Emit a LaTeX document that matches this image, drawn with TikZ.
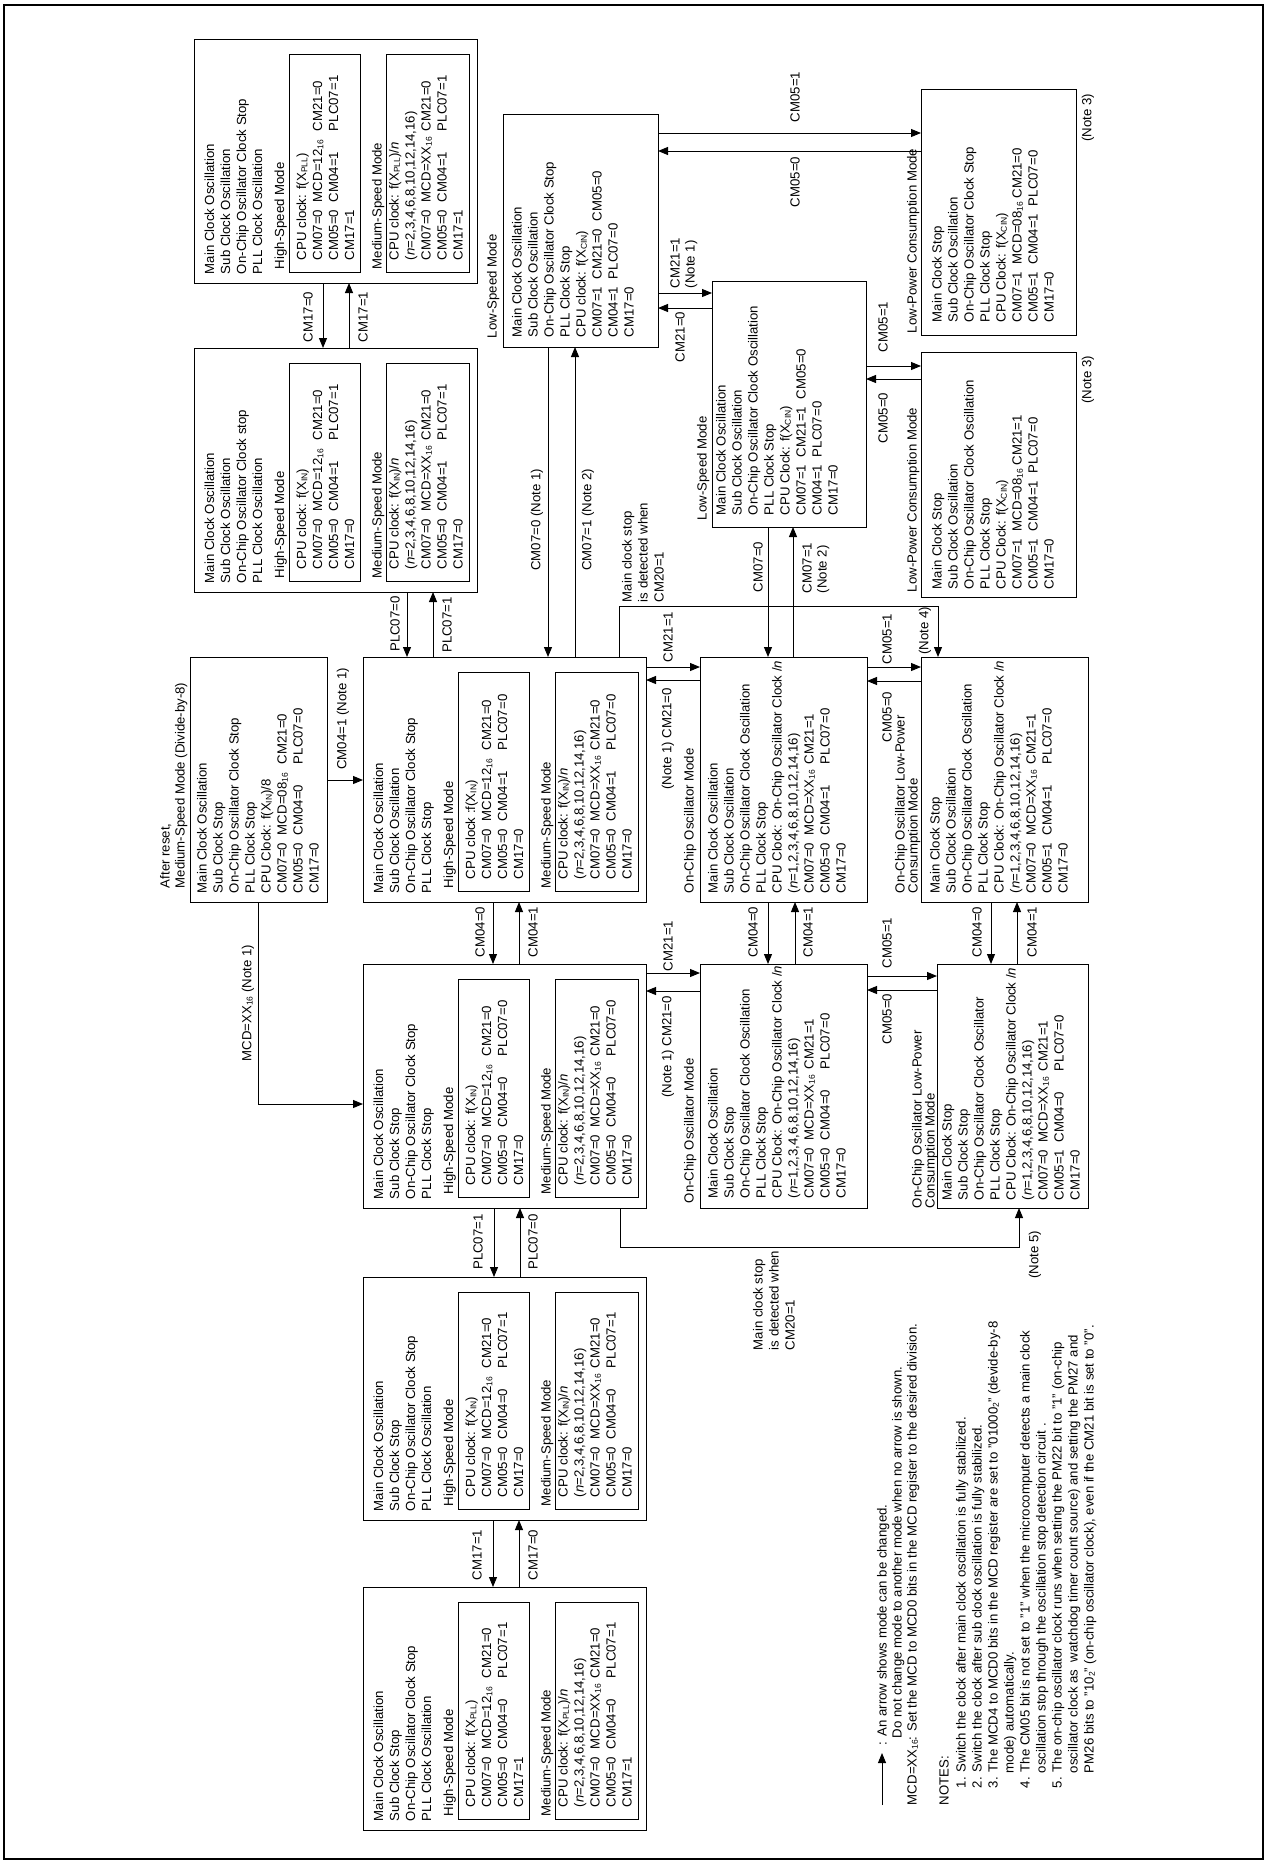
\documentclass[tikz,border=0pt]{standalone}
\usepackage{fontspec}
\setmainfont{Liberation Sans}
\usetikzlibrary{arrows.meta,fit}
\newcommand{\sbs}[1]{\raisebox{-1.3pt}{\fontsize{8.5}{8.5}\selectfont #1}}
\newcommand{\hx}{\sbs{16}}
\newcommand{\XIN}{X\sbs{IN}}
\newcommand{\XPLL}{X\sbs{PLL}}
\newcommand{\XCIN}{X\sbs{CIN}}
\newcommand{\ca}[1]{\makebox[58pt][l]{#1}}
\newcommand{\cb}[1]{\makebox[71pt][l]{#1}}
\newcommand{\nn}{\textit{n}}
\newcommand{\fl}{\rule{0pt}{10pt}}
\newcommand{\fsa}{\fontsize{13.2}{16}\selectfont}
\newcommand{\fsb}{\fontsize{13.2}{15}\selectfont}
\newcommand{\fsc}{\fontsize{13.2}{13}\selectfont}
\newcommand{\pllbox}[7]{%
  \node[bx, fit={(#2,#3) ({#2+283},#4)}] (#1) {};
  \node[tx] (#1s) at ({#2+10},{#4-9}) {\fl #5};
  \node[tx] (#1h) at ({#2+80},{#4-14}) {\fl High-Speed Mode};
  \node[bx, fit={({#2+95},{#3+15}) ({#2+166},{#4-11})}] (#1i) {};
  \node[tx] (#1it) at ({#2+102},{#4-23}) {\fl #6};
  \node[tx] (#1m) at ({#2+177.5},{#4-14}) {\fl Medium-Speed Mode};
  \node[bx, fit={({#2+192.5},{#3+15}) ({#2+275.5},{#4-11})}] (#1j) {};
  \node[tx] (#1jt) at ({#2+194.5},{#4-23}) {\fl #7};
}
\begin{document}
\begin{tikzpicture}[x=1pt,y=-1pt,
  bx/.style={draw, line width=1pt, inner sep=0pt, outer sep=0pt},
  tx/.style={rotate=90, anchor=north west, inner sep=0pt, outer sep=0pt, align=left, font=\fsa},
  lb/.style={rotate=90, anchor=center, inner sep=0pt, outer sep=0pt, align=left, font=\fsa},
  arr/.style={line width=1pt, -{Triangle[length=10pt,width=8pt]}}]
\fill[white] (0,0) rectangle (1265,1863);
\useasboundingbox (0,0) rectangle (1265,1863);
\draw[line width=2.5pt] (4,5) rectangle (1263,1859);

% ---------- PLL / main clock boxes ----------
\pllbox{A}{194}{39}{283}
 {Main Clock Oscillation\\Sub Clock Oscillation\\On-Chip Oscillator Clock Stop\\PLL Clock Oscillation}
 {CPU clock: f(\XPLL)\\\ca{CM07=0}\cb{MCD=12\hx}CM21=0\\\ca{CM05=0}\cb{CM04=1}PLC07=1\\CM17=1}
 {CPU clock: f(\XPLL)/\nn\\(\nn=2,3,4,6,8,10,12,14,16)\\\ca{CM07=0}\cb{MCD=XX\hx}CM21=0\\\ca{CM05=0}\cb{CM04=1}PLC07=1\\CM17=1}
\pllbox{B}{194}{348}{592}
 {Main Clock Oscillation\\Sub Clock Oscillation\\On-Chip Oscillator Clock stop\\PLL Clock Oscillation}
 {CPU clock: f(\XIN)\\\ca{CM07=0}\cb{MCD=12\hx}CM21=0\\\ca{CM05=0}\cb{CM04=1}PLC07=1\\CM17=0}
 {CPU clock: f(\XIN)/\nn\\(\nn=2,3,4,6,8,10,12,14,16)\\\ca{CM07=0}\cb{MCD=XX\hx}CM21=0\\\ca{CM05=0}\cb{CM04=1}PLC07=1\\CM17=0}
\pllbox{C}{363}{657}{902}
 {Main Clock Oscillation\\Sub Clock Oscillation\\On-Chip Oscillator Clock Stop\\PLL Clock Stop}
 {CPU clock :f(\XIN)\\\ca{CM07=0}\cb{MCD=12\hx}CM21=0\\\ca{CM05=0}\cb{CM04=1}PLC07=0\\CM17=0}
 {CPU clock: f(\XIN)/\nn\\(\nn=2,3,4,6,8,10,12,14,16)\\\ca{CM07=0}\cb{MCD=XX\hx}CM21=0\\\ca{CM05=0}\cb{CM04=1}PLC07=0\\CM17=0}
\pllbox{D}{363}{964}{1208}
 {Main Clock Oscillation\\Sub Clock Stop\\On-Chip Oscillator Clock Stop\\PLL Clock Stop}
 {CPU clock: f(\XIN)\\\ca{CM07=0}\cb{MCD=12\hx}CM21=0\\\ca{CM05=0}\cb{CM04=0}PLC07=0\\CM17=0}
 {CPU clock: f(\XIN)/\nn\\(\nn=2,3,4,6,8,10,12,14,16)\\\ca{CM07=0}\cb{MCD=XX\hx}CM21=0\\\ca{CM05=0}\cb{CM04=0}PLC07=0\\CM17=0}
\pllbox{K}{363}{1277}{1520}
 {Main Clock Oscillation\\Sub Clock Stop\\On-Chip Oscillator Clock Stop\\PLL Clock Oscillation}
 {CPU clock: f(\XIN)\\\ca{CM07=0}\cb{MCD=12\hx}CM21=0\\\ca{CM05=0}\cb{CM04=0}PLC07=1\\CM17=0}
 {CPU clock: f(\XIN)/\nn\\(\nn=2,3,4,6,8,10,12,14,16)\\\ca{CM07=0}\cb{MCD=XX\hx}CM21=0\\\ca{CM05=0}\cb{CM04=0}PLC07=1\\CM17=0}
\pllbox{M}{363}{1587}{1830}
 {Main Clock Oscillation\\Sub Clock Stop\\On-Chip Oscillator Clock Stop\\PLL Clock Oscillation}
 {CPU clock: f(\XPLL)\\\ca{CM07=0}\cb{MCD=12\hx}CM21=0\\\ca{CM05=0}\cb{CM04=0}PLC07=1\\CM17=1}
 {CPU clock: f(\XPLL)/\nn\\(\nn=2,3,4,6,8,10,12,14,16)\\\ca{CM07=0}\cb{MCD=XX\hx}CM21=0\\\ca{CM05=0}\cb{CM04=0}PLC07=1\\CM17=1}

% ---------- simple boxes ----------
\node[bx, fit={(190,657) (327,902)}] (R) {};
\node[tx] (Rt) at (196.5,893) {\fl Main Clock Oscillation\\Sub Clock Stop\\On-Chip Oscillator Clock Stop\\PLL Clock Stop\\CPU Clock: f(\XIN)/8\\\ca{CM07=0}\cb{MCD=08\hx}CM21=0\\\ca{CM05=0}\cb{CM04=0}PLC07=0\\CM17=0};
\node[tx, font=\fsb] (Rtt) at (159.5,888) {\fl After reset,\\Medium-Speed Mode (Divide-by-8)};

\node[bx, fit={(503,114) (658,347)}] (E) {};
\node[tx] (Et) at (511.5,337) {\fl Main Clock Oscillation\\Sub Clock Oscillation\\On-Chip Oscillator Clock Stop\\PLL Clock Stop\\CPU clock: f(\XCIN)\\\ca{CM07=1}\ca{CM21=0}CM05=0\\\ca{CM04=1}PLC07=0\\CM17=0};
\node[tx] (Ett) at (486.5,338) {\fl Low-Speed Mode};

\node[bx, fit={(712,281) (866,527)}] (L) {};
\node[tx] (Lt) at (715.5,515) {\fl Main Clock Oscillation\\Sub Clock Oscillation\\On-Chip Oscillator Clock Oscillation\\PLL Clock Stop\\CPU Clock: f(\XCIN)\\\ca{CM07=1}\ca{CM21=1}CM05=0\\\ca{CM04=1}PLC07=0\\CM17=0};
\node[tx] (Ltt) at (696.5,520) {\fl Low-Speed Mode};

\node[bx, fit={(921,89) (1076,335)}] (H1) {};
\node[tx] (H1t) at (931.5,322) {\fl Main Clock Stop\\Sub Clock Oscillation\\On-Chip Oscillator Clock Stop\\PLL Clock Stop\\CPU Clock: f(\XCIN)\\\ca{CM07=1}MCD=08\hx{} CM21=0\\\ca{CM05=1}\ca{CM04=1}PLC07=0\\CM17=0};
\node[tx] (H1tt) at (906.5,333) {\fl Low-Power Consumption Mode};
\node[lb] (N3a) at (1088,118) {(Note 3)};

\node[bx, fit={(921,352) (1076,597)}] (H2) {};
\node[tx] (H2t) at (931.5,589) {\fl Main Clock Stop\\Sub Clock Oscillation\\On-Chip Oscillator Clock Oscillation\\PLL Clock Stop\\CPU Clock: f(\XCIN)\\\ca{CM07=1}MCD=08\hx{} CM21=1\\\ca{CM05=1}\ca{CM04=1}PLC07=0\\CM17=0};
\node[tx] (H2tt) at (906.5,592) {\fl Low-Power Consumption Mode};
\node[lb] (N3b) at (1088,380) {(Note 3)};

\node[bx, fit={(700,657) (867,902)}] (F) {};
\node[tx] (Ft) at (707.5,893) {\fl Main Clock Oscillation\\Sub Clock Oscillation\\On-Chip Oscillator Clock Oscillation\\PLL Clock Stop\\CPU Clock: On-Chip Oscillator Clock /\nn\\(\nn=1,2,3,4,6,8,10,12,14,16)\\\ca{CM07=0}\cb{MCD=XX\hx}CM21=1\\\ca{CM05=0}\cb{CM04=1}PLC07=0\\CM17=0};
\node[tx] (Ftt) at (683.5,893) {\fl On-Chip Oscillator Mode};

\node[bx, fit={(700,964) (867,1208)}] (I) {};
\node[tx] (It) at (707.5,1198) {\fl Main Clock Oscillation\\Sub Clock Stop\\On-Chip Oscillator Clock Oscillation\\PLL Clock Stop\\CPU Clock: On-Chip Oscillator Clock /\nn\\(\nn=1,2,3,4,6,8,10,12,14,16)\\\ca{CM07=0}\cb{MCD=XX\hx}CM21=1\\\ca{CM05=0}\cb{CM04=0}PLC07=0\\CM17=0};
\node[tx] (Itt) at (683.5,1203) {\fl On-Chip Oscillator Mode};

\node[bx, fit={(921,657) (1088,902)}] (G) {};
\node[tx] (Gt) at (929.5,893) {\fl Main Clock Stop\\Sub Clock Oscillation\\On-Chip Oscillator Clock Oscillation\\PLL Clock Stop\\CPU Clock: On-Chip Oscillator Clock /\nn\\(\nn=1,2,3,4,6,8,10,12,14,16)\\\ca{CM07=0}\cb{MCD=XX\hx}CM21=1\\\ca{CM05=1}\cb{CM04=1}PLC07=0\\CM17=0};
\node[tx, font=\fsc] (Gtt) at (894.5,893) {\fl On-Chip Oscillator Low-Power\\Consumption Mode};

\node[bx, fit={(937,964) (1088,1208)}] (J) {};
\node[tx] (Jt) at (941.5,1200) {\fl Main Clock Stop\\Sub Clock Stop\\On-Chip Oscillator Clock Oscillator\\PLL Clock Stop\\CPU Clock: On-Chip Oscillator Clock /\nn\\(\nn=1,2,3,4,6,8,10,12,14,16)\\\ca{CM07=0}\cb{MCD=XX\hx}CM21=1\\\ca{CM05=1}\cb{CM04=0}PLC07=0\\CM17=0};
\node[tx, font=\fsc] (Jtt) at (911.5,1208) {\fl On-Chip Oscillator Low-Power\\Consumption Mode};

% ---------- connectors ----------
\draw[arr] (A.south -| 323,0) -- (B.north -| 323,0);
\draw[arr] (B.north -| 349,0) -- (A.south -| 349,0);
\draw[arr] (B.south -| 407,0) -- (C.north -| 407,0);
\draw[arr] (C.north -| 433,0) -- (B.south -| 433,0);
\draw[arr] (R.east |- 0,780) -- (C.west |- 0,780);
\draw[arr] (R.south -| 258,0) |- (D.west |- 0,1104);
\draw[arr] (E.south -| 548,0) -- (C.north -| 548,0);
\draw[arr] (C.north -| 575,0) -- (E.south -| 575,0);
\draw[arr] (C.north -| 619,0) -- ++(0,-51) -| (G.north -| 938,0);
\draw[arr] (C.east |- 0,667) -- (F.west |- 0,667);
\draw[arr] (F.west |- 0,680) -- (C.east |- 0,680);
\draw[arr] (E.east |- 0,133) -- (H1.west |- 0,133);
\draw[arr] (H1.west |- 0,151) -- (E.east |- 0,151);
\draw[arr] (E.east |- 0,293) -- (L.west |- 0,293);
\draw[arr] (L.west |- 0,308) -- (E.east |- 0,308);
\draw[arr] (L.south -| 768,0) -- (F.north -| 768,0);
\draw[arr] (F.north -| 793,0) -- (L.south -| 793,0);
\draw[arr] (L.east |- 0,366) -- (H2.west |- 0,366);
\draw[arr] (H2.west |- 0,379) -- (L.east |- 0,379);
\draw[arr] (F.east |- 0,667) -- (G.west |- 0,667);
\draw[arr] (G.west |- 0,681) -- (F.east |- 0,681);
\draw[arr] (C.south -| 493,0) -- (D.north -| 493,0);
\draw[arr] (D.north -| 519,0) -- (C.south -| 519,0);
\draw[arr] (F.south -| 768,0) -- (I.north -| 768,0);
\draw[arr] (I.north -| 795,0) -- (F.south -| 795,0);
\draw[arr] (G.south -| 991,0) -- (J.north -| 991,0);
\draw[arr] (J.north -| 1017,0) -- (G.south -| 1017,0);
\draw[arr] (D.east |- 0,973) -- (I.west |- 0,973);
\draw[arr] (I.west |- 0,991) -- (D.east |- 0,991);
\draw[arr] (I.east |- 0,976) -- (J.west |- 0,976);
\draw[arr] (J.west |- 0,990) -- (I.east |- 0,990);
\draw[arr] (D.south -| 620,0) -- ++(0,39) -| (J.south -| 1019,0);
\draw[arr] (D.south -| 494,0) -- (K.north -| 494,0);
\draw[arr] (K.north -| 520,0) -- (D.south -| 520,0);
\draw[arr] (K.south -| 493,0) -- (M.north -| 493,0);
\draw[arr] (M.north -| 519,0) -- (K.south -| 519,0);

% ---------- labels ----------
\node[lb] (l1) at (308,317) {CM17=0};
\node[lb] (l2) at (363,317) {CM17=1};
\node[lb] (l3) at (395,624) {PLC07=0};
\node[lb] (l4) at (447,625) {PLC07=1};
\node[lb] (l5) at (343,719) {CM04=1 (Note 1)};
\node[lb] (l6) at (248,1003) {MCD=XX\hx{} (Note 1)};
\node[lb] (l7) at (537,520) {CM07=0 (Note 1)};
\node[lb] (l8) at (588,520) {CM07=1 (Note 2)};
\node[tx] (l9) at (621.5,602) {\fl Main clock stop\\is detected when\\CM20=1};
\node[lb] (l10) at (925,631) {(Note 4)};
\node[lb] (l11) at (668,637) {CM21=1};
\node[lb] (l12) at (668,739) {(Note 1) CM21=0};
\node[lb] (l13) at (795,97) {CM05=1};
\node[lb] (l14) at (795,182) {CM05=0};
\node[tx, font=\fsb] (l15) at (669.5,288) {\fl CM21=1\\(Note 1)};
\node[lb] (l16) at (680,337) {CM21=0};
\node[lb] (l17) at (758,567) {CM07=0};
\node[tx, font=\fsb] (l18) at (801.5,593) {\fl CM07=1\\(Note 2)};
\node[lb] (l19) at (883,327) {CM05=1};
\node[lb] (l20) at (883,418) {CM05=0};
\node[lb] (l21) at (887,639) {CM05=1};
\node[lb] (l22) at (887,717) {CM05=0};
\node[lb] (l23) at (480,932) {CM04=0};
\node[lb] (l24) at (533,932) {CM04=1};
\node[lb] (l25) at (753,932) {CM04=0};
\node[lb] (l26) at (808,932) {CM04=1};
\node[lb] (l27) at (977,932) {CM04=0};
\node[lb] (l28) at (1032,932) {CM04=1};
\node[lb] (l29) at (668,946) {CM21=1};
\node[lb] (l30) at (668,1047) {(Note 1) CM21=0};
\node[lb] (l31) at (887,943) {CM05=1};
\node[lb] (l32) at (887,1019) {CM05=0};
\node[tx] (l33) at (752.5,1350) {\fl Main clock stop\\is detected when\\CM20=1};
\node[lb] (l34) at (1035,1255) {(Note 5)};
\node[lb] (l35) at (478,1242) {PLC07=1};
\node[lb] (l36) at (533,1242) {PLC07=0};
\node[lb] (l37) at (477,1555) {CM17=1};
\node[lb] (l38) at (533,1555) {CM17=0};

% ---------- legend and notes ----------
\coordinate (lg1) at (882,1805);
\coordinate (lg2) at (882,1753);
\draw[arr] (lg1) -- (lg2);
\node[tx] (lgA) at (876.5,1745) {\fl : An arrow shows mode can be changed.};
\node[tx] (lgB) at (891.5,1738) {\fl Do not change mode to another mode when no arrow is shown.};
\node[tx] (lgC) at (906.5,1805) {\fl MCD=XX\hx: Set the MCD to MCD0 bits in the MCD register to the desired division.};
\node[tx] (nt0) at (938.5,1805) {\fl NOTES:};
\node[tx] (nt1) at (955.5,1788) {\fl 1. Switch the clock after main clock oscillation is fully stabilized.\\
2. Switch the clock after sub clock oscillation is fully stabilized.\\
3. The MCD4 to MCD0 bits in the MCD register are set to "01000\sbs{2}" (devide-by-8\\
\hspace*{15pt}mode) automatically.\\
4. The CM05 bit is not set to "1" when the microcomputer detects a main clock\\
\hspace*{15pt}oscillation stop through the oscillation stop detection circuit .\\
5. The on-chip oscillator clock runs when setting the PM22 bit to "1" (on-chip\\
\hspace*{15pt}oscillator clock as \ watchdog timer count source) and setting the PM27 and\\
\hspace*{15pt}PM26 bits to "10\sbs{2}" (on-chip oscillator clock), even if the CM21 bit is set to "0".};
\end{tikzpicture}
\end{document}
